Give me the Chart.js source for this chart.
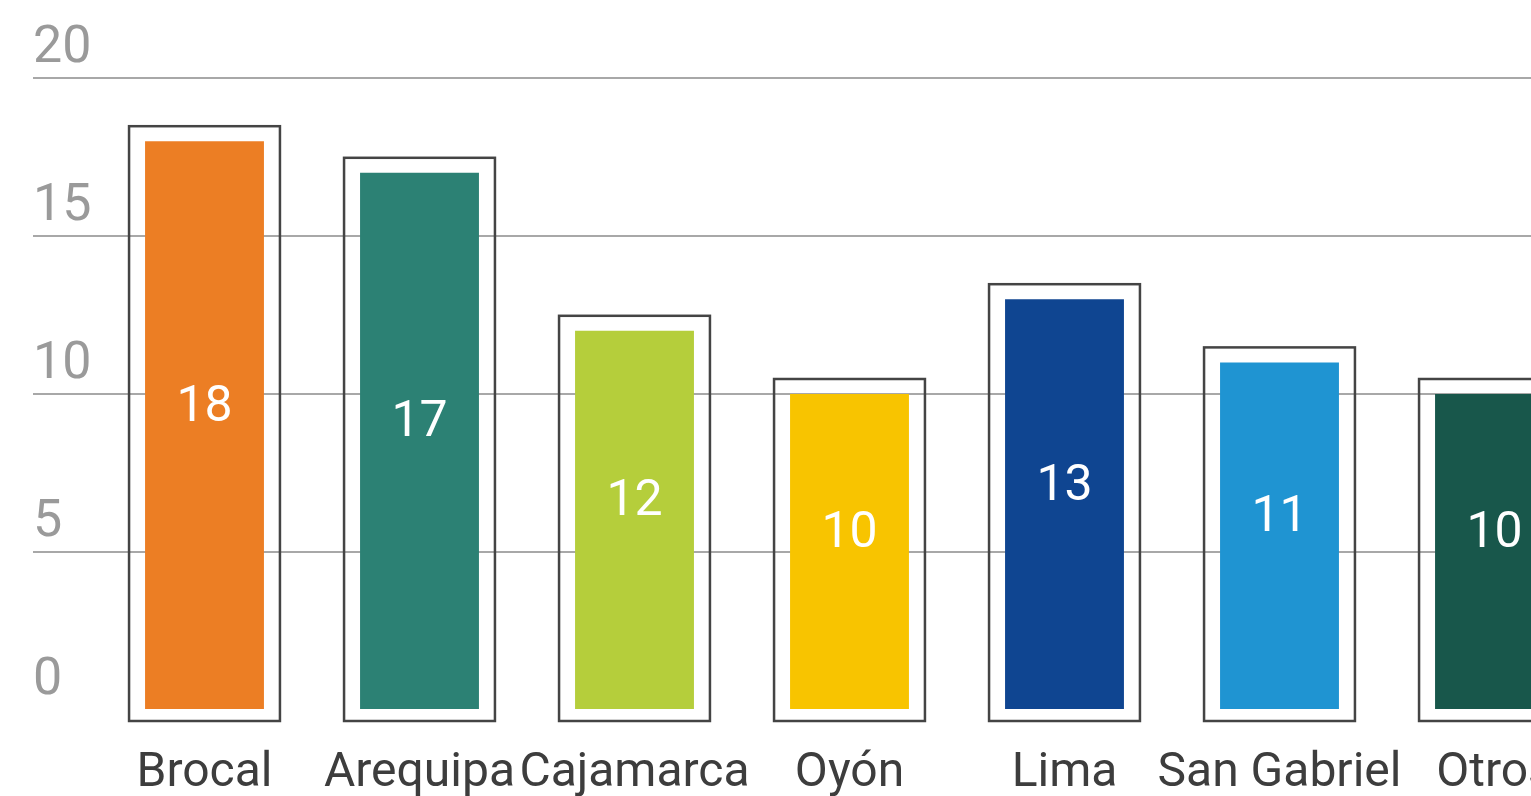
<!DOCTYPE html>
<html>
<head>
<meta charset="utf-8">
<script src="https://cdn.jsdelivr.net/npm/chart.js@4"></script>
<style>
  html, body { margin: 0; padding: 0; background: #fff; overflow: hidden; }
  #wrap { width: 1610px; height: 796px; }
</style>
</head>
<body>
<div id="wrap"><canvas id="barChart"></canvas></div>
<script>
// data
const regions = ["Brocal", "Arequipa", "Cajamarca", "Oyón", "Lima", "San Gabriel", "Otros"];
const counts = [18, 17, 12, 10, 13, 11, 10];
const barColors = ["#EC7E24", "#2C8174", "#B5CE3B", "#F8C400", "#0F4591", "#1F94D2", "#18574B"];
const yTicks = [0, 5, 10, 15, 20];

const FONT = "Roboto";

// frame around every bar + the value written inside
const boxPlugin = {
    id: "boxes",
    afterDatasetsDraw(chart) {
        const ctx = chart.ctx;
        const meta = chart.getDatasetMeta(0);
        ctx.save();
        meta.data.forEach(function(bar, i) {
            const half = bar.width / 2;
            ctx.strokeStyle = "#444";
            ctx.lineWidth = 2.5;
            ctx.strokeRect(bar.x - half - 16, bar.y - 15, bar.width + 32, bar.base - bar.y + 27);

            ctx.fillStyle = "#fff";
            ctx.font = "400 50px " + FONT;
            ctx.textAlign = "center";
            ctx.textBaseline = "middle";
            ctx.fillText(String(counts[i]), bar.x, (bar.y + bar.base) / 2 - 17);
        });
        ctx.restore();
    }
};

new Chart("barChart", {
    type: "bar",
    data: {
        labels: regions,
        datasets: [{
            data: counts,
            backgroundColor: barColors,
            categoryPercentage: 1,
            barPercentage: 0.553
        }]
    },
    options: {
        responsive: true,
        maintainAspectRatio: false,
        animation: false,
        layout: { padding: { left: 33, top: 78, right: 8, bottom: 0 } },
        plugins: {
            legend: { display: false },
            tooltip: { enabled: false }
        },
        scales: {
            x: {
                grid: { display: false },
                border: { display: false },
                ticks: {
                    color: "#3d3d3d",
                    font: { family: FONT, size: 48, weight: 400 },
                    padding: 27,
                    autoSkip: false,
                    maxRotation: 0
                },
                afterFit(scale) { scale.height = 86; }
            },
            y: {
                min: 0,
                max: 20,
                afterBuildTicks(scale) {
                    scale.ticks = yTicks.map(function(v) { return { value: v }; });
                },
                afterFit(scale) { scale.width = 64; },
                border: { display: false },
                grid: {
                    color: function(c) { return c.tick && c.tick.value === 0 ? "rgba(0,0,0,0)" : "#A8A8A8"; },
                    lineWidth: 2,
                    drawTicks: true,
                    tickLength: 64
                },
                ticks: {
                    color: "#9a9a9a",
                    font: { family: FONT, size: 52, weight: 400 },
                    crossAlign: "far",
                    labelOffset: -29,
                    padding: 0
                }
            }
        }
    },
    plugins: [boxPlugin]
});
</script>
</body>
</html>
